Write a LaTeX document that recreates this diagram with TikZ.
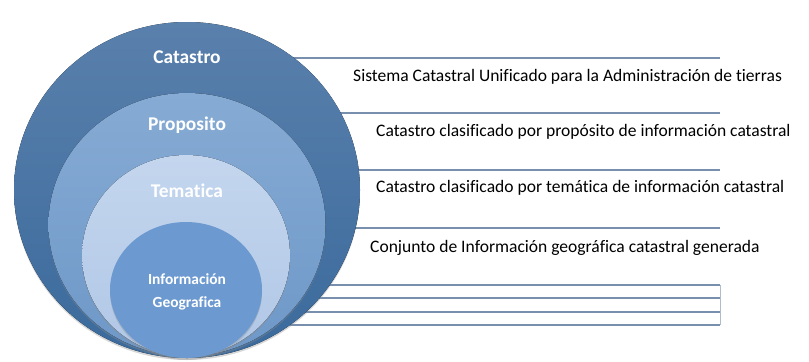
\documentclass[tikz,border=0pt]{standalone}
\usepackage{fontspec}
\setmainfont[Ligatures={NoCommon,NoRare}]{Carlito}
\usetikzlibrary{shadows}
\definecolor{cOutTop}{HTML}{5A80AC}
\definecolor{cOutBot}{HTML}{3A6A9C}
\definecolor{cPropTop}{HTML}{86ABD4}
\definecolor{cPropBot}{HTML}{6E98C8}
\definecolor{cTemTop}{HTML}{C4D6EE}
\definecolor{cTemBot}{HTML}{B0C7E6}
\definecolor{cInf}{HTML}{6C9AD0}
\definecolor{cLine}{HTML}{7890AE}
\begin{document}
\begin{tikzpicture}[x=1bp,y=-1bp,
  ring/.style={draw=none, general shadow={fill=black!45, opacity=0.35, shadow yshift=-2bp, shadow scale=1.0}},
  lvl/.style={font=\fontsize{19.5}{22}\selectfont\bfseries, text=white},
  inner/.style={font=\fontsize{15.5}{18}\selectfont\bfseries, text=white},
  desc/.style={font=\fontsize{17.6}{20}\selectfont, text=black, anchor=west, inner sep=0pt},
  sep/.style={draw=cLine, line width=1.3bp}]
\useasboundingbox (0,0) rectangle (809,361);
% separator lines (behind circles)
\coordinate (l1a) at (290,58);  \coordinate (l1b) at (720,58);
\coordinate (l2a) at (330,113); \coordinate (l2b) at (720,113);
\coordinate (l3a) at (330,170); \coordinate (l3b) at (720,170);
\coordinate (l4a) at (330,228); \coordinate (l4b) at (720,228);
\coordinate (l5a) at (290,285); \coordinate (l5b) at (720,285);
\coordinate (l6a) at (290,298); \coordinate (l6b) at (720,298);
\coordinate (l7a) at (290,312); \coordinate (l7b) at (720,312);
\coordinate (l8a) at (290,325); \coordinate (l8b) at (720,325);
\foreach \i in {1,...,8} {\draw[sep] (l\i a) -- (l\i b);}
\draw[draw=cLine!60, line width=0.8bp] (l5b) -- (l8b);
% circles
\fill[ring, top color=cOutTop, bottom color=cOutBot] (187,190) ellipse [x radius=173, y radius=168];
\fill[ring, top color=cPropTop, bottom color=cPropBot] (187,224.5) ellipse [x radius=138.5, y radius=131.5];
\fill[ring, top color=cTemTop, bottom color=cTemBot] (186,255.5) ellipse [x radius=104, y radius=100.5];
\fill[ring, fill=cInf] (186,290) ellipse [x radius=76, y radius=68];
% labels
\node[lvl] (catastro) at (187,57) {Catastro};
\node[lvl] (proposito) at (187,125) {Proposito};
\node[lvl] (tematica) at (187,191) {Tematica};
\node[inner] (info) at (187,279) {Información};
\node[inner] (geo) at (187,303) {Geografica};
% descriptions
\node[desc] (d1) at (353,77) {Sistema Catastral Unificado para la Administración de tierras};
\node[desc] (d2) at (376,132) {Catastro clasificado por propósito de información catastral};
\node[desc] (d3) at (376,188) {Catastro clasificado por temática de información catastral};
\node[desc] (d4) at (370,248) {Conjunto de Información geográfica catastral generada};
\end{tikzpicture}
\end{document}
